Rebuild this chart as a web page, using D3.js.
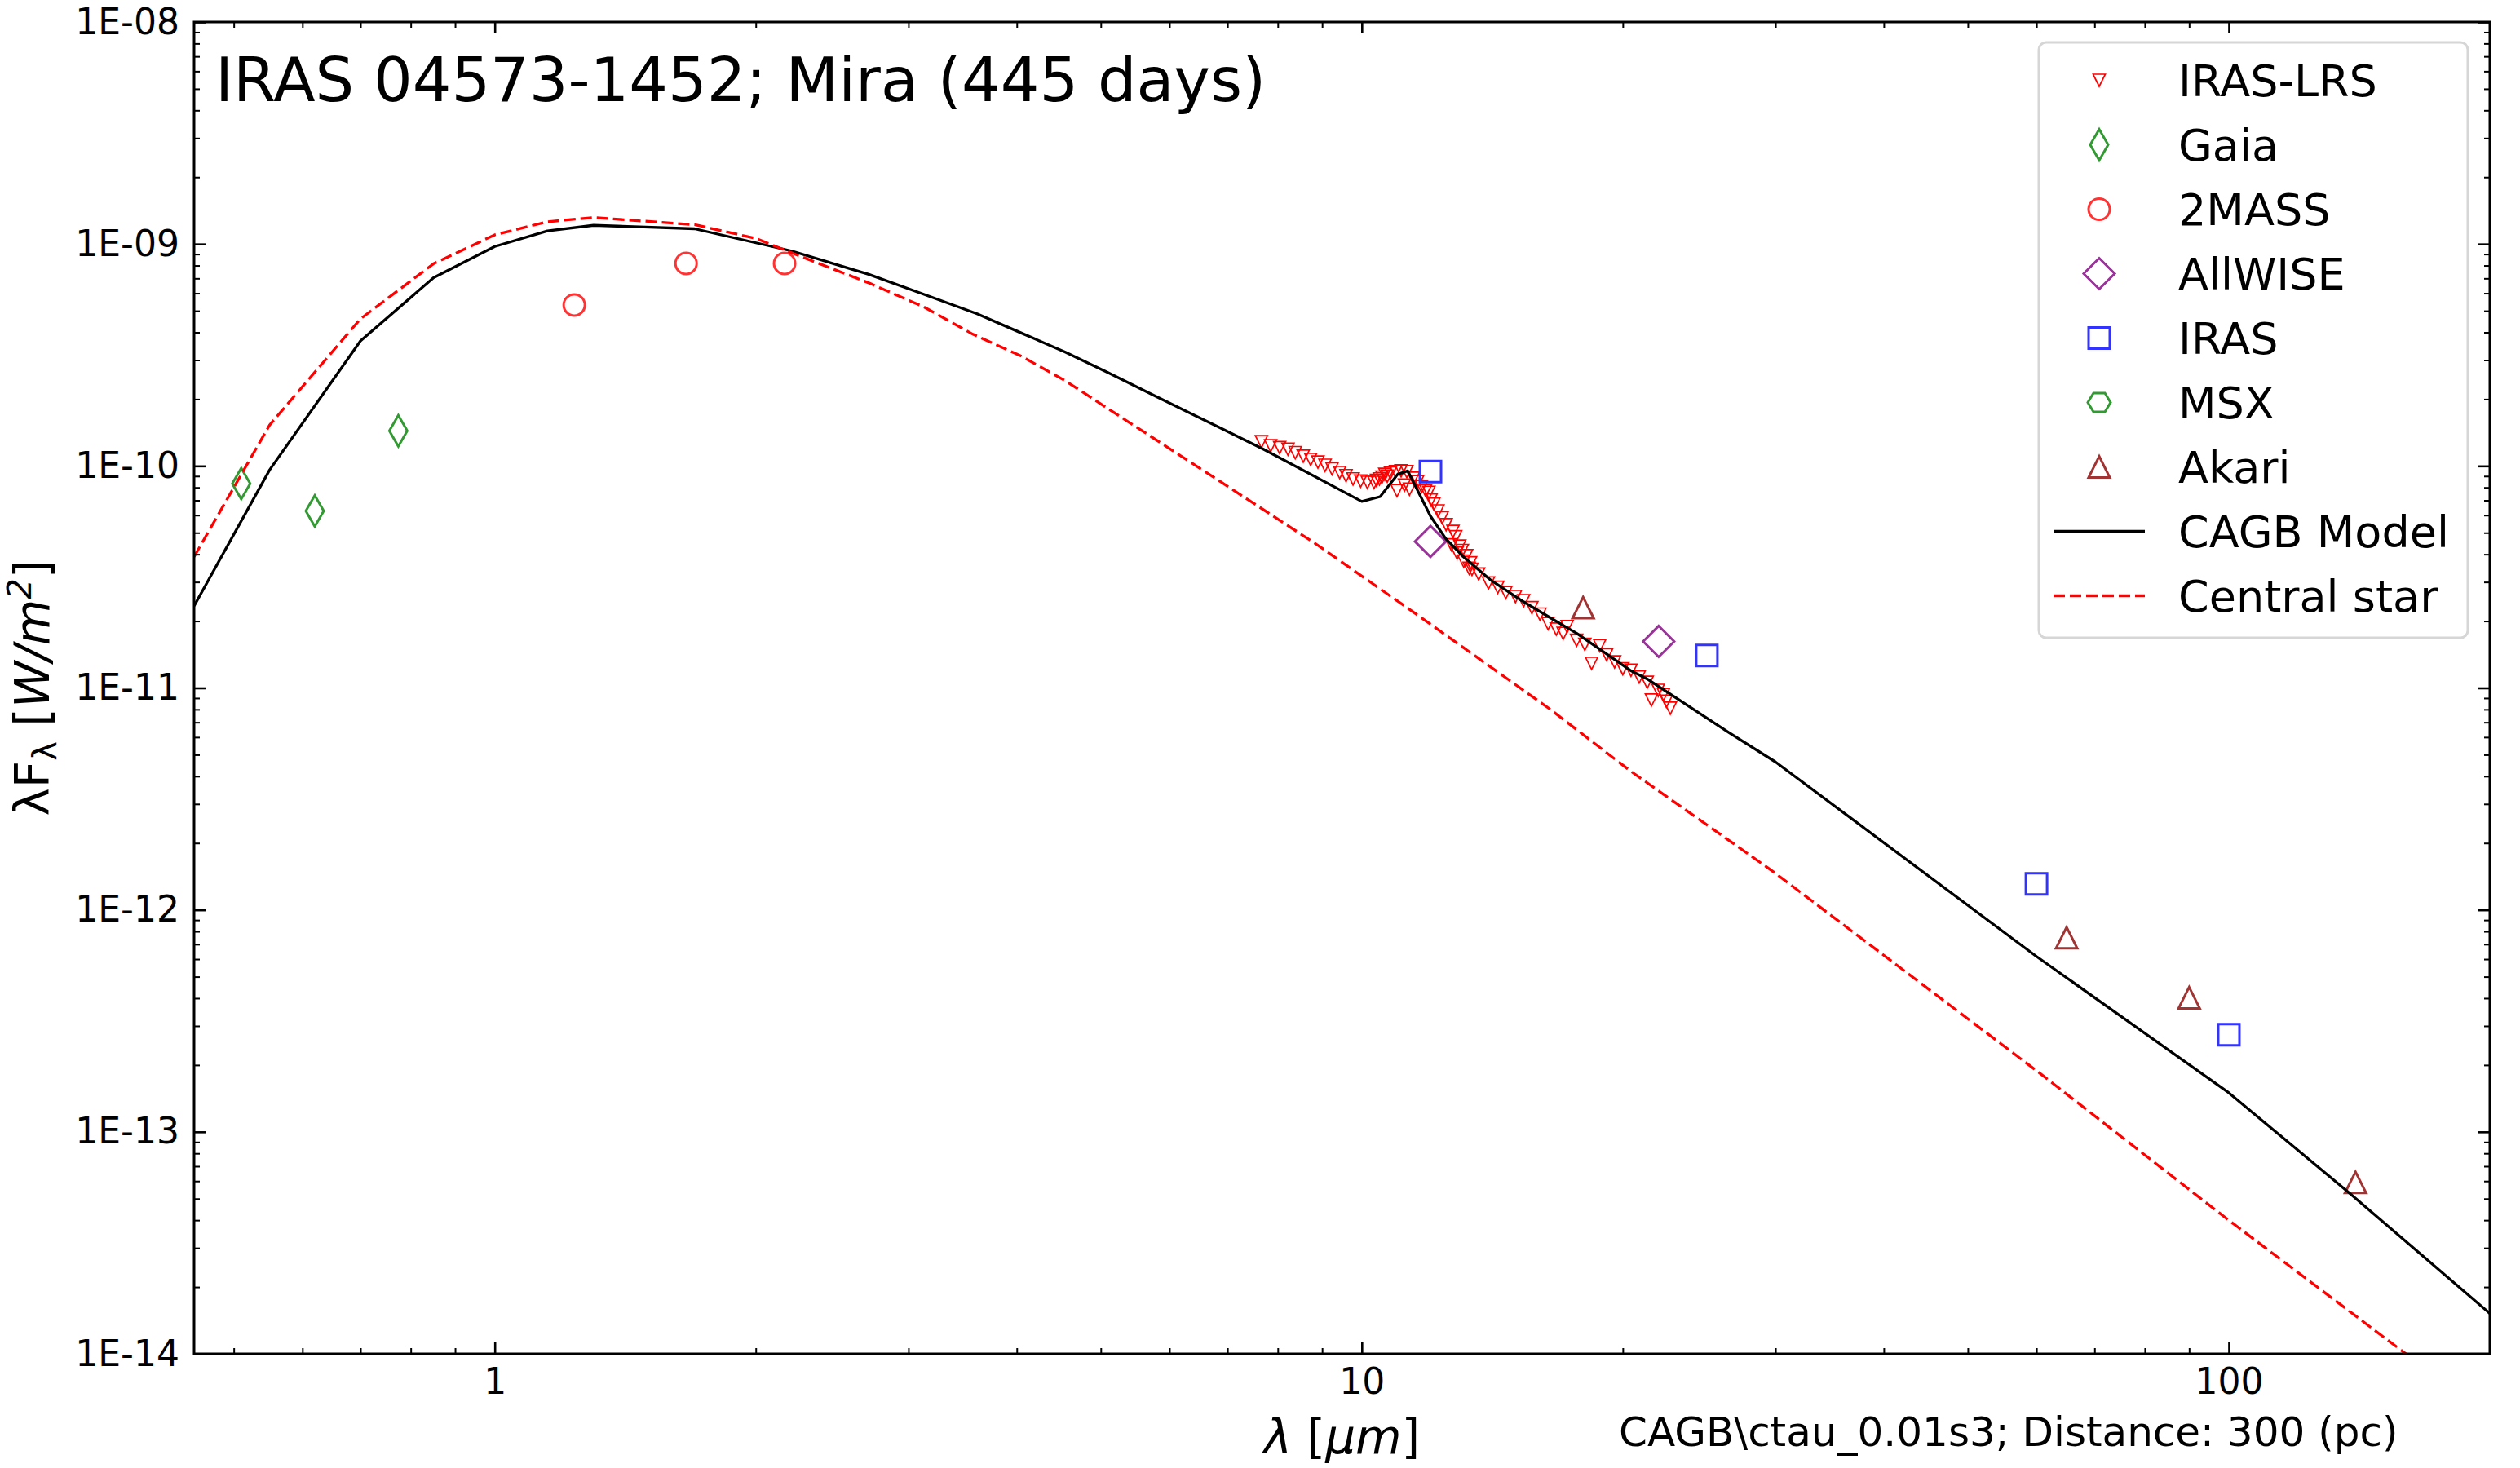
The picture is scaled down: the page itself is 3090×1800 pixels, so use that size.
<!DOCTYPE html>
<html lang="en">
<head>
    <meta charset="UTF-8">
    <title>IRAS 04573-1452 SED</title>
    <style>
        body,
        html {
            margin: 0;
            padding: 0;
            background: #fff;
        }

        svg {
            display: block;
            font-family: "DejaVu Sans", sans-serif;
        }
    </style>
</head>
<body>
    <svg id="chart" width="3090" height="1800"></svg>

    <script src="https://d3js.org/d3.v7.min.js"></script>
    <script>
        // ---- data (wavelength in micron, lambda*F_lambda in W/m^2) ----
        const lrsWave = [7.66, 7.85, 8.04, 8.22, 8.38, 8.56, 8.73, 8.90, 9.07, 9.24, 9.43, 9.59, 9.77, 9.97,
            10.15, 10.33, 10.40, 10.48, 10.55, 10.63, 10.70, 10.79, 10.94, 11.10, 11.27, 10.98, 11.20, 11.35,
            11.47, 11.60, 11.72, 11.85, 11.95, 12.02, 12.11, 12.24, 12.38, 12.51, 12.69, 12.74, 12.83, 12.88,
            12.97, 13.06, 13.11, 13.21, 13.30, 13.35, 13.40, 13.64, 14.00, 14.35, 14.66, 15.04, 15.37, 15.71,
            16.05, 16.40, 16.76, 17.07, 17.25, 17.69, 18.08, 18.41, 18.81, 19.16, 19.57, 20.00, 20.44, 20.89,
            21.34, 21.58, 21.97, 22.28, 22.45, 22.69];
        const lrsFlux = [1.286e-10, 1.233e-10, 1.21e-10, 1.19e-10, 1.148e-10, 1.107e-10, 1.07e-10, 1.04e-10,
            1.007e-10, 9.7e-11, 9.35e-11, 9.04e-11, 8.74e-11, 8.55e-11,
            8.43e-11, 8.43e-11, 8.6e-11, 8.74e-11, 8.9e-11, 9.17e-11, 9.0e-11, 9.3e-11, 9.43e-11, 9.5e-11, 9.43e-11, 7.74e-11, 8.2e-11, 7.85e-11,
            8.8e-11, 8.5e-11, 8.07e-11, 7.74e-11, 7.6e-11, 7.02e-11, 6.73e-11, 6.27e-11, 5.84e-11, 5.44e-11, 4.41e-11, 5.07e-11, 4.8e-11, 4.05e-11,
            4.35e-11, 4.16e-11, 3.72e-11, 3.94e-11, 3.46e-11, 3.66e-11, 3.42e-11, 3.26e-11, 2.97e-11, 2.84e-11, 2.69e-11, 2.58e-11, 2.47e-11, 2.3e-11,
            2.15e-11, 1.95e-11, 1.84e-11, 1.76e-11, 1.89e-11, 1.64e-11, 1.57e-11, 1.29e-11, 1.55e-11, 1.41e-11, 1.31e-11, 1.22e-11, 1.20e-11, 1.12e-11,
            1.06e-11, 8.82e-12, 9.75e-12, 9.34e-12, 8.7e-12, 8.1e-12];

        const gaiaWave = [0.51, 0.62, 0.774];
        const gaiaFlux = [8.33e-11, 6.27e-11, 1.44e-10];

        const twomassWave = [1.235, 1.662, 2.159];
        const twomassFlux = [5.31e-10, 8.18e-10, 8.18e-10];

        const allwiseWave = [12.0, 22.0];
        const allwiseFlux = [4.57e-11, 1.62e-11];

        const irasWave = [12, 25, 60, 100];
        const irasFlux = [9.43e-11, 1.40e-11, 1.31e-12, 2.74e-13];

        const msxWave = [];
        const msxFlux = [];

        const akariWave = [18, 65, 90, 140];
        const akariFlux = [2.30e-11, 7.49e-13, 4.02e-13, 5.92e-14];

        const modelWave = [0.45, 0.55, 0.70, 0.85, 1.0, 1.15, 1.30, 1.70, 2.2, 2.7, 3.1, 3.6, 4.05, 4.55, 5.1,
            5.8, 6.9, 7.7, 10.0, 10.5, 11.0, 11.3, 12.0, 12.5, 13.1, 14.1, 15.3, 16.5, 17.7, 20.4, 21.4, 26.5,
            30, 60, 100, 137, 200];
        const modelFlux = [2.34e-11, 9.6e-11, 3.66e-10, 7.05e-10, 9.74e-10, 1.145e-9, 1.214e-9, 1.171e-9,
            9.3e-10, 7.3e-10, 6.0e-10, 4.85e-10, 3.97e-10, 3.26e-10, 2.63e-10,
            2.05e-10, 1.47e-10, 1.19e-10, 6.92e-11, 7.27e-11, 9.17e-11, 9.5e-11, 5.95e-11, 4.7e-11, 3.9e-11,
            3.05e-11, 2.47e-11, 2.07e-11, 1.76e-11, 1.20e-11, 1.09e-11, 6.3e-12,
            4.64e-12, 6.17e-13, 1.50e-13, 5.4e-14, 1.52e-14];

        const starWave = [0.45, 0.55, 0.70, 0.85, 1.0, 1.15, 1.30, 1.70, 2.0, 2.2, 2.7, 3.13, 3.56, 4.05, 4.55,
            5.34, 6.63, 8.84, 11.8, 16.5, 20.4, 29.8, 60.4, 99.3, 159.5, 200];
        const starFlux = [3.9e-11, 1.53e-10, 4.60e-10, 8.15e-10, 1.10e-9, 1.26e-9, 1.316e-9, 1.222e-9, 1.06e-9,
            9.12e-10, 6.68e-10, 5.19e-10, 3.92e-10, 3.12e-10, 2.42e-10,
            1.61e-10, 9.3e-11, 4.47e-11, 2.03e-11, 8.0e-12, 4.23e-12, 1.49e-12, 1.85e-13, 4.08e-14, 1.01e-14, 5.1e-15];

        const xMajor = [1, 10, 100];
        const xMinor = [0.5, 0.6, 0.7, 0.8, 0.9, 2, 3, 4, 5, 6, 7, 8, 9, 20, 30, 40, 50, 60, 70, 80, 90];
        const yMajor = [1e-14, 1e-13, 1e-12, 1e-11, 1e-10, 1e-9, 1e-8];
        const yMinor = [];
        for (let e = -14; e < -8; e++) {
            for (let m = 2; m <= 9; m++) yMinor.push(m * Math.pow(10, e));
        }

        const titleText = "IRAS 04573-1452; Mira (445 days)";
        const noteText = "CAGB\\ctau_0.01s3; Distance: 300 (pc)";

        // ---- layout ----
        const W = 3090, H = 1800;
        const margin = { top: 27, right: 37, bottom: 140, left: 238 };
        const font = "DejaVu Sans";

        const svg = d3.select("#chart");

        const x = d3.scaleLog()
            .domain([0.45, 200])
            .range([margin.left, W - margin.right]);

        const y = d3.scaleLog()
            .domain([1e-14, 1e-8])
            .range([H - margin.bottom, margin.top]);

        // marker shapes (centred on 0,0)
        const shapes = {
            triDown: () => "M0,7.5L-7.5,-7.5L7.5,-7.5Z",
            thinDiamond: () => "M0,-19L11,0L0,19L-11,0Z",
            circle: () => "M13,0A13,13 0 1,1 -13,0A13,13 0 1,1 13,0Z",
            diamond: () => "M0,-19L19,0L0,19L-19,0Z",
            square: () => "M-13,-13H13V13H-13Z",
            hexagon: () => {
                const r = 14;
                const pts = d3.range(6).map(i => {
                    const a = i * Math.PI / 3;
                    return [r * Math.cos(a), r * Math.sin(a) * 0.95];
                });
                return "M" + pts.map(p => p.join(",")).join("L") + "Z";
            },
            triUp: () => "M0,-13L13,13L-13,13Z"
        };

        const series = [
            { name: "IRAS-LRS", wave: lrsWave, flux: lrsFlux, shape: "triDown", color: "#ff0000", sw: 1.7 },
            { name: "Gaia", wave: gaiaWave, flux: gaiaFlux, shape: "thinDiamond", color: "#339933", sw: 3 },
            { name: "2MASS", wave: twomassWave, flux: twomassFlux, shape: "circle", color: "#ff3333", sw: 3 },
            { name: "AllWISE", wave: allwiseWave, flux: allwiseFlux, shape: "diamond", color: "#993399", sw: 3 },
            { name: "IRAS", wave: irasWave, flux: irasFlux, shape: "square", color: "#3333ff", sw: 3 },
            { name: "MSX", wave: msxWave, flux: msxFlux, shape: "hexagon", color: "#339933", sw: 3 },
            { name: "Akari", wave: akariWave, flux: akariFlux, shape: "triUp", color: "#a23333", sw: 3 }
        ];

        const curves = [
            { name: "CAGB Model", wave: modelWave, flux: modelFlux, color: "#000", dash: null },
            { name: "Central star", wave: starWave, flux: starFlux, color: "#ff0000", dash: "14,6" }
        ];

        // clip for the plotting area
        svg.append("defs").append("clipPath").attr("id", "plot-clip")
            .append("rect")
            .attr("x", margin.left).attr("y", margin.top)
            .attr("width", W - margin.left - margin.right)
            .attr("height", H - margin.top - margin.bottom);

        // ---- markers ----
        const pointsG = svg.append("g");
        series.forEach(s => {
            const pts = s.wave.map((w, i) => ({ w: w, f: s.flux[i] }));
            pointsG.append("g").selectAll("path")
                .data(pts)
                .enter().append("path")
                .attr("d", shapes[s.shape]())
                .attr("transform", d => `translate(${x(d.w)},${y(d.f)})`)
                .attr("fill", "none")
                .attr("stroke", s.color)
                .attr("stroke-width", s.sw)
                .attr("stroke-linejoin", "miter");
        });

        // ---- model curves ----
        const line = d3.line()
            .x(d => x(d.w))
            .y(d => y(d.f));

        const linesG = svg.append("g").attr("clip-path", "url(#plot-clip)");
        curves.forEach(c => {
            const pts = c.wave.map((w, i) => ({ w: w, f: c.flux[i] }));
            linesG.append("path")
                .datum(pts)
                .attr("d", line)
                .attr("fill", "none")
                .attr("stroke", c.color)
                .attr("stroke-width", 3.3)
                .attr("stroke-dasharray", c.dash)
                .attr("stroke-linejoin", "round");
        });

        // ---- axes (ticks inside on all four sides) ----
        const yFormat = d => {
            const e = Math.round(Math.log10(d));
            return "1E" + (e < 0 ? "-" : "+") + String(Math.abs(e)).padStart(2, "0");
        };

        function tidy(g, w) {
            g.select(".domain").remove();
            g.attr("font-family", font).attr("font-size", 44);
            g.selectAll(".tick line").attr("stroke", "#000").attr("stroke-width", w);
            g.selectAll(".tick text").attr("fill", "#000");
        }

        const yBottom = H - margin.bottom, xRight = W - margin.right;

        svg.append("g").attr("transform", `translate(0,${yBottom})`)
            .call(d3.axisBottom(x).tickValues(xMajor).tickFormat(d3.format("d"))
                .tickSizeInner(-14).tickSizeOuter(0).tickPadding(18))
            .call(g => tidy(g, 2.6));
        svg.append("g").attr("transform", `translate(0,${yBottom})`)
            .call(d3.axisBottom(x).tickValues(xMinor).tickFormat("").tickSizeInner(-7).tickSizeOuter(0))
            .call(g => tidy(g, 2));

        svg.append("g").attr("transform", `translate(0,${margin.top})`)
            .call(d3.axisTop(x).tickValues(xMajor).tickFormat("").tickSizeInner(-14).tickSizeOuter(0))
            .call(g => tidy(g, 2.6));
        svg.append("g").attr("transform", `translate(0,${margin.top})`)
            .call(d3.axisTop(x).tickValues(xMinor).tickFormat("").tickSizeInner(-7).tickSizeOuter(0))
            .call(g => tidy(g, 2));

        svg.append("g").attr("transform", `translate(${margin.left},0)`)
            .call(d3.axisLeft(y).tickValues(yMajor).tickFormat(yFormat)
                .tickSizeInner(-14).tickSizeOuter(0).tickPadding(18))
            .call(g => tidy(g, 2.6));
        svg.append("g").attr("transform", `translate(${margin.left},0)`)
            .call(d3.axisLeft(y).tickValues(yMinor).tickFormat("").tickSizeInner(-7).tickSizeOuter(0))
            .call(g => tidy(g, 2));

        svg.append("g").attr("transform", `translate(${xRight},0)`)
            .call(d3.axisRight(y).tickValues(yMajor).tickFormat("").tickSizeInner(-14).tickSizeOuter(0))
            .call(g => tidy(g, 2.6));
        svg.append("g").attr("transform", `translate(${xRight},0)`)
            .call(d3.axisRight(y).tickValues(yMinor).tickFormat("").tickSizeInner(-7).tickSizeOuter(0))
            .call(g => tidy(g, 2));

        // frame
        svg.append("rect")
            .attr("x", margin.left).attr("y", margin.top)
            .attr("width", W - margin.left - margin.right)
            .attr("height", H - margin.top - margin.bottom)
            .attr("fill", "none")
            .attr("stroke", "#000")
            .attr("stroke-width", 3);

        // ---- texts ----
        svg.append("text")
            .attr("x", 264).attr("y", 124)
            .attr("font-family", font).attr("font-size", 75)
            .text(titleText);

        const xLabel = svg.append("text")
            .attr("x", (margin.left + xRight) / 2).attr("y", 1782)
            .attr("text-anchor", "middle")
            .attr("font-family", font).attr("font-size", 58);
        xLabel.append("tspan").attr("font-style", "italic").text("λ");
        xLabel.append("tspan").text(" [");
        xLabel.append("tspan").attr("font-style", "italic").text("μm");
        xLabel.append("tspan").text("]");

        const yLabel = svg.append("text")
            .attr("transform", `translate(60,${(margin.top + yBottom) / 2}) rotate(-90)`)
            .attr("text-anchor", "middle")
            .attr("font-family", font).attr("font-size", 58);
        yLabel.append("tspan").text("λF");
        yLabel.append("tspan").attr("font-size", 40).attr("dy", 9).text("λ");
        yLabel.append("tspan").attr("dy", -9).text(" [");
        yLabel.append("tspan").attr("font-style", "italic").text("W/m");
        yLabel.append("tspan").attr("font-size", 40).attr("dy", -22).attr("font-style", "italic").text("2");
        yLabel.append("tspan").attr("dy", 22).text("]");

        svg.append("text")
            .attr("x", 1985).attr("y", 1773)
            .attr("font-family", font).attr("font-size", 50)
            .text(noteText);

        // ---- legend ----
        const legend = svg.append("g");
        const lgX = 2500, lgY = 52, rowH = 79, firstRow = 98.5;
        const entries = series.map(s => ({ name: s.name, s: s })).concat(curves.map(c => ({ name: c.name, c: c })));

        legend.append("rect")
            .attr("x", lgX).attr("y", lgY)
            .attr("width", 526).attr("height", 730)
            .attr("rx", 9)
            .attr("fill", "#fff").attr("fill-opacity", 0.8)
            .attr("stroke", "#d6d6d6").attr("stroke-width", 3);

        entries.forEach((e, i) => {
            const cy = firstRow + i * rowH;
            if (e.s) {
                legend.append("path")
                    .attr("d", shapes[e.s.shape]())
                    .attr("transform", `translate(2574,${cy})`)
                    .attr("fill", "none")
                    .attr("stroke", e.s.color)
                    .attr("stroke-width", e.s.sw);
            } else {
                legend.append("line")
                    .attr("x1", 2518).attr("x2", 2630)
                    .attr("y1", cy).attr("y2", cy)
                    .attr("stroke", e.c.color)
                    .attr("stroke-width", 3.3)
                    .attr("stroke-dasharray", e.c.dash);
            }
            legend.append("text")
                .attr("x", 2671).attr("y", cy + 19.5)
                .attr("font-family", font).attr("font-size", 54)
                .text(e.name);
        });
    </script>
</body>
</html>
